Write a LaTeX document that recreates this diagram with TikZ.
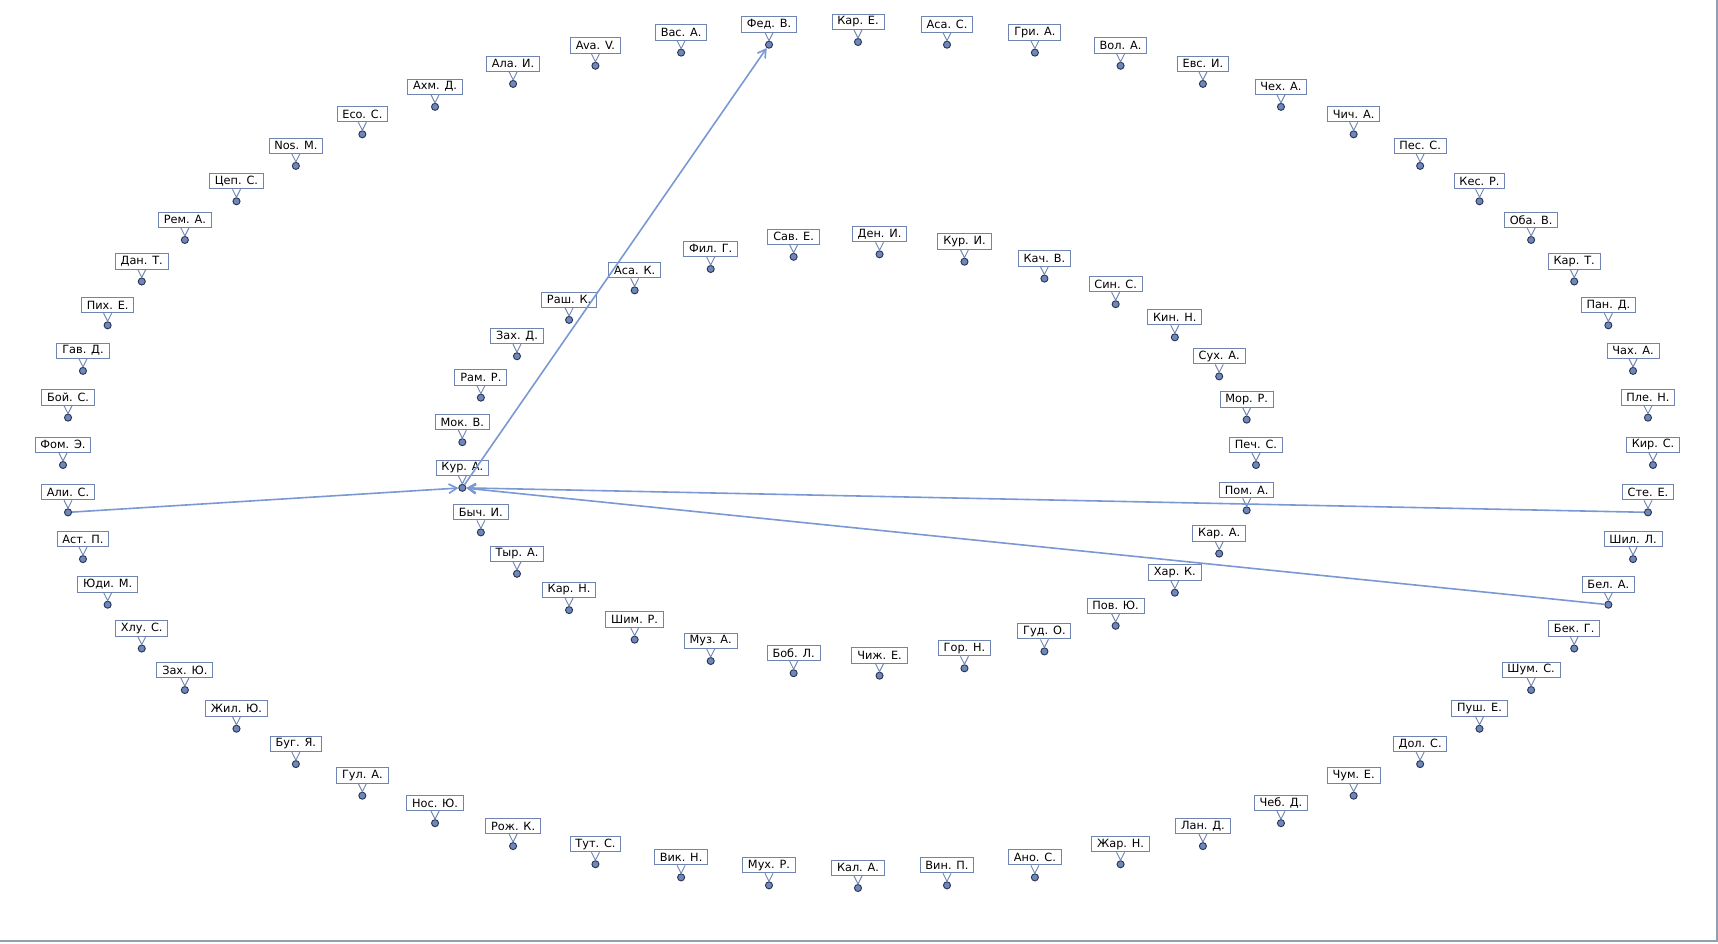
\documentclass[tikz,border=0pt]{standalone}
\usepackage{fontspec}
\setmainfont{DejaVu Sans}
\usepackage{tikz}
\usetikzlibrary{positioning,arrows.meta}
\definecolor{boxline}{RGB}{112,132,178}
\definecolor{dotfill}{RGB}{110,136,186}
\definecolor{dotline}{RGB}{42,52,84}
\definecolor{edgeblue}{RGB}{122,152,212}
\definecolor{frameline}{RGB}{143,160,181}

\begin{document}
\begin{tikzpicture}[x=0.75pt,y=0.75pt,
	vdot/.style={circle,draw=dotline,fill=dotfill,line width=0.7pt,inner sep=0pt,minimum size=5.3pt},
	vlabel/.style={rectangle,draw=boxline,fill=white,line width=0.7pt,
		font=\fontsize{8.5}{10}\selectfont,text=black,inner xsep=4pt,inner ysep=0pt,
		minimum height=11.5pt},
	vtip/.style={draw=boxline,line width=0.7pt},
	rel/.style={draw=edgeblue,line width=1.2pt,-{Straight Barb[length=6pt,width=7pt]}},
	]
	\useasboundingbox (0,0) rectangle (1718,943);
	\draw[frameline,line width=1.5pt] (1716.5,943) -- (1716.5,2) -- (0,2);
	% outer ring
	\foreach \n [count=\k from 0] in {Кир. С.,Пле. Н.,Чах. А.,Пан. Д.,Кар. Т.,Оба. В.,Кес. Р.,Пес. С.,Чич. А.,Чех. А.,Евс. И.,Вол. А.,Гри. А.,Аса. С.,Кар. Е.,Фед. В.,Вас. А.,Ava. V.,Ала. И.,Ахм. Д.,Eco. C.,Nos. M.,Цеп. С.,Рем. А.,Дан. Т.,Пих. Е.,Гав. Д.,Бой. С.,Фом. Э.,Али. С.,Аст. П.,Юди. М.,Хлу. С.,Зах. Ю.,Жил. Ю.,Буг. Я.,Гул. А.,Нос. Ю.,Рож. К.,Тут. С.,Вик. Н.,Мух. Р.,Кал. А.,Вин. П.,Ано. С.,Жар. Н.,Лан. Д.,Чеб. Д.,Чум. Е.,Дол. С.,Пуш. Е.,Шум. С.,Бек. Г.,Бел. А.,Шил. Л.,Сте. Е.}
	{
	\node[vdot] (o\k) at ({858+795*cos(360/56*\k)},{478+423*sin(360/56*\k)}) {};
	\node[vlabel,above=6pt of o\k] (lo\k) {\n};
	\draw[vtip] ([xshift=-3pt]lo\k.south) -- (o\k.north) -- ([xshift=3pt]lo\k.south);
	}
	% inner ring
	\foreach \n [count=\k from 0] in {Печ. С.,Мор. Р.,Сух. А.,Кин. Н.,Син. С.,Кач. В.,Кур. И.,Ден. И.,Сав. Е.,Фил. Г.,Аса. К.,Раш. К.,Зах. Д.,Рам. Р.,Мок. В.,Кур. А.,Быч. И.,Тыр. А.,Кар. Н.,Шим. Р.,Муз. А.,Боб. Л.,Чиж. Е.,Гор. Н.,Гуд. О.,Пов. Ю.,Хар. К.,Кар. А.,Пом. А.}
	{
	\node[vdot] (i\k) at ({858+398*cos(360/29*\k)},{478+211*sin(360/29*\k)}) {};
	\node[vlabel,above=6pt of i\k] (li\k) {\n};
	\draw[vtip] ([xshift=-3pt]li\k.south) -- (i\k.north) -- ([xshift=3pt]li\k.south);
	}
	\draw[rel] (o29) -- (i15);
	\draw[rel] (o55) -- (i15);
	\draw[rel] (o53) -- (i15);
	\draw[rel] (i15) -- (o15);
\end{tikzpicture}
\end{document}
